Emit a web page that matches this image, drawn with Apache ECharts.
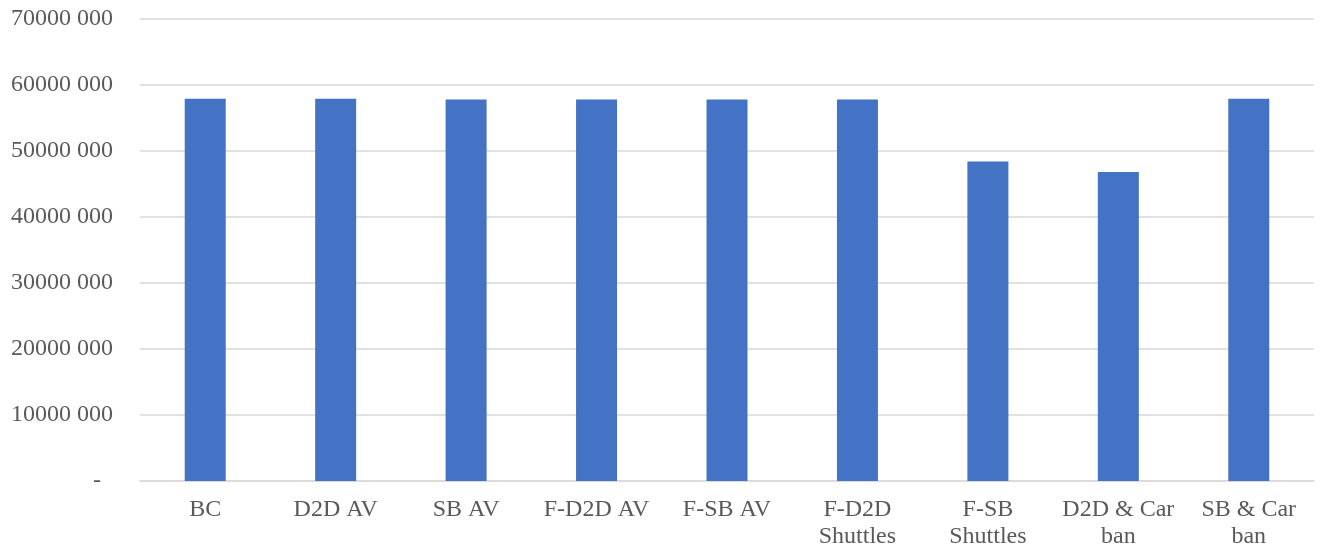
<!DOCTYPE html>
<html>
<head>
<meta charset="utf-8">
<script src="https://cdn.jsdelivr.net/npm/echarts@6/dist/echarts.min.js"></script>
<style>
    html, body {margin:0;padding:0;background:#ffffff;}
    #chart {width:1325px;height:556px;}
</style>
</head>
<body>
<div id="chart"></div>
<script>
    // scenario names and their x-axis labels (as wrapped in the original)
    var categories = ['BC', 'D2D AV', 'SB AV', 'F-D2D AV', 'F-SB AV', 'F-D2D Shuttles', 'F-SB Shuttles', 'D2D & Car ban', 'SB & Car ban'];
    var tickLabels = ['BC', 'D2D AV', 'SB AV', 'F-D2D AV', 'F-SB AV', 'F-D2D\nShuttles', 'F-SB\nShuttles', 'D2D & Car\nban', 'SB & Car\nban'];
    // values
    var values = [57900000, 57900000, 57800000, 57800000, 57800000, 57800000, 48400000, 46800000, 57900000];

    var chart = echarts.init(document.getElementById('chart'));

    var option = {
        animation: false,
        grid: {
            left: 140,
            right: 11,
            top: 19,
            bottom: 75
        },
        xAxis: {
            type: 'category',
            data: categories,
            axisLine: {lineStyle: {color: '#d9d9d9', width: 1.5}},
            axisTick: {show: false},
            axisLabel: {
                color: '#595959',
                fontFamily: 'Liberation Serif',
                fontSize: 24,
                lineHeight: 27,
                margin: 15,
                interval: 0,
                formatter: function (v, i) {
                    return tickLabels[i];
                }
            }
        },
        yAxis: {
            type: 'value',
            min: 0,
            max: 70000000,
            interval: 10000000,
            axisLine: {show: false},
            axisTick: {show: false},
            splitLine: {lineStyle: {color: '#d9d9d9', width: 1.5}},
            axisLabel: {
                color: '#595959',
                fontFamily: 'Liberation Serif',
                fontSize: 24,
                margin: 27,
                padding: [4, 0, 0, 0],
                formatter: function (v) {
                    if (v === 0) return '-  ';
                    return Math.round(v / 1000) + ' 000';
                }
            }
        },
        series: [
            {
                type: 'bar',
                data: values,
                barWidth: 41,
                itemStyle: {color: '#4472c4'}
            }
        ]
    };
    chart.setOption(option);
</script>
</body>
</html>
